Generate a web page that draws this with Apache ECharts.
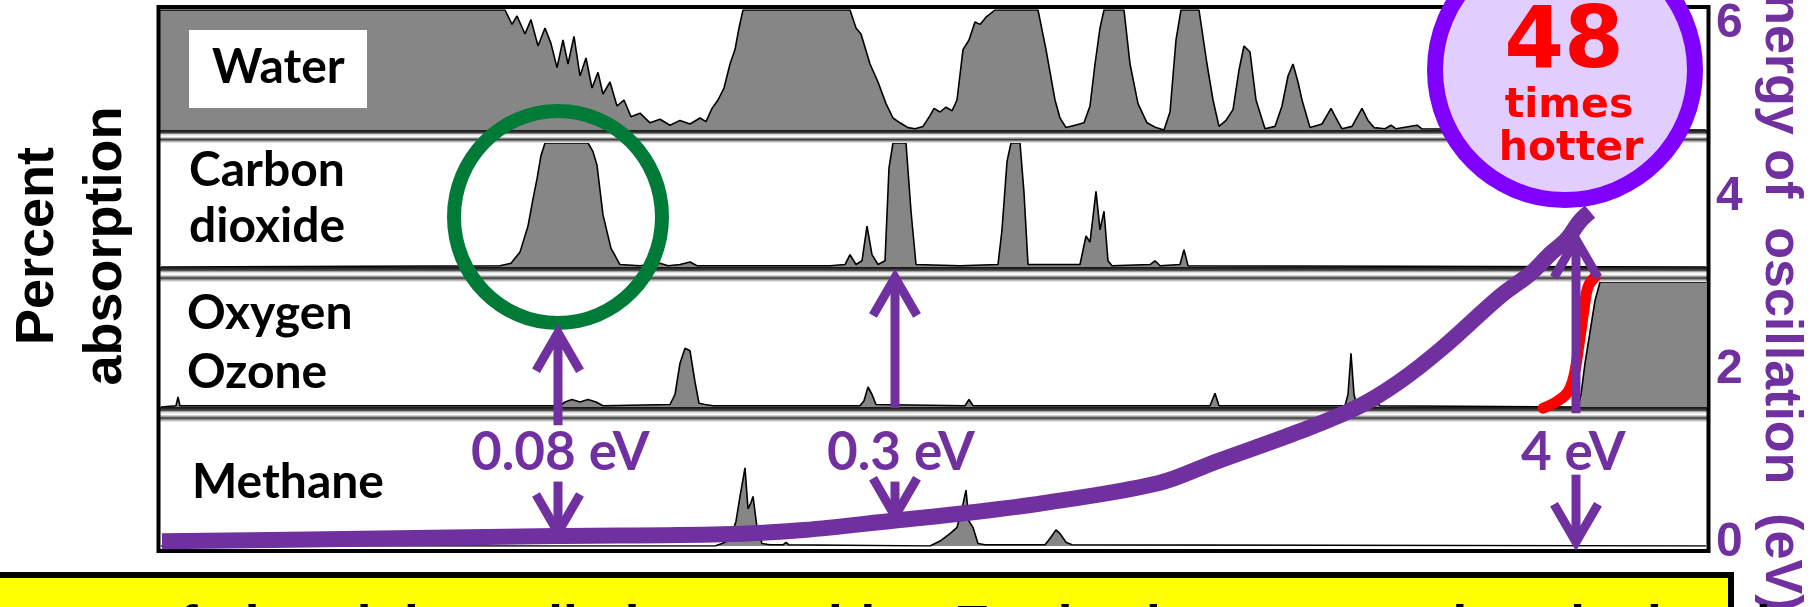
<!DOCTYPE html>
<html><head><meta charset="utf-8">
<script src="https://cdn.jsdelivr.net/npm/echarts@6/dist/echarts.min.js"></script>
<style>html,body{margin:0;padding:0;background:#fff;overflow:hidden}#c{width:1810px;height:607px}</style>
</head><body><div id="c"></div>
<script>
// ---- data (x = position across the spectrum panel, y = % absorption) ----
const bandLabels = ['Water', 'Carbon\ndioxide', 'Oxygen\nOzone', 'Methane'];
const waterSpectrum = [[2,100],[347,100],[354,88],[359,95],[367,80],[373,92],[380,70],[387,85],[393,72],[399,52],[405,75],[410,55],[416,78],[422,45],[428,60],[434,35],[440,48],[445,30],[452,40],[459,20],[466,25],[473,11],[482,14],[492,6],[502,9],[512,4],[522,8],[532,5],[542,10],[548,7],[554,18],[560,25],[566,35],[572,55],[577,67],[581,85],[585,100],[692,100],[698,85],[703,80],[712,55],[720,40],[728,22],[735,10],[742,6],[750,2],[757,1],[765,3],[772,12],[776,18],[782,15],[788,19],[794,16],[799,25],[805,67],[811,75],[817,90],[822,88],[828,94],[837,100],[880,100],[888,67],[897,25],[902,10],[908,2],[917,4],[926,6],[932,20],[937,55],[942,85],[946,100],[966,100],[972,55],[980,22],[989,6],[998,2],[1006,0],[1012,15],[1018,75],[1023,100],[1041,100],[1049,55],[1055,25],[1061,3],[1068,8],[1075,17],[1081,50],[1086,70],[1092,65],[1098,25],[1107,1],[1117,3],[1124,20],[1130,45],[1135,55],[1140,40],[1144,25],[1152,2],[1164,5],[1173,18],[1178,10],[1184,1],[1194,3],[1204,18],[1210,8],[1216,2],[1227,1],[1233,4],[1238,1],[1259,4],[1264,1],[1548,0]];
const co2Spectrum = [[3,0],[342,1],[353,3],[362,12],[370,33],[375,55],[379,71],[383,90],[387,100],[430,100],[435,93],[439,82],[445,42],[453,15],[462,2],[482,1],[502,3],[510,1],[522,2],[532,4],[539,1],[672,1],[687,2],[692,10],[698,2],[704,5],[709,33],[714,10],[720,2],[727,5],[731,80],[735,100],[748,100],[753,45],[758,2],[802,1],[840,2],[844,30],[849,85],[853,100],[862,100],[866,60],[870,2],[922,2],[928,25],[932,20],[938,61],[942,30],[946,45],[950,5],[954,1],[992,2],[997,5],[1002,1],[1022,2],[1026,14],[1030,1],[1548,0]];
const oxygenSpectrum = [[3,0],[18,1],[20,8],[22,1],[402,1],[407,4],[414,6],[422,4],[430,6],[438,4],[445,1],[512,2],[517,10],[522,35],[527,47],[532,45],[537,20],[541,3],[547,2],[555,1],[702,1],[706,5],[710,16],[714,10],[718,2],[807,1],[811,6],[815,1],[1052,1],[1057,11],[1061,1],[1187,1],[1190,10],[1193,43],[1196,10],[1199,1],[1216,1],[1219,4],[1222,1],[1420,0],[1423,10],[1427,35],[1432,60],[1437,85],[1442,100],[1548,100]];
const methaneSpectrum = [[3,0],[557,0],[564,2],[572,5],[578,20],[582,40],[587,63],[590,30],[593,35],[595,40],[599,15],[604,2],[612,1],[625,1],[628,3],[631,1],[772,0],[782,4],[792,10],[799,15],[804,30],[808,45],[811,20],[815,15],[820,2],[827,1],[887,1],[892,6],[898,13],[902,10],[908,3],[914,1],[1548,0]];
const ozoneEdgeMark = [[1385,-1],[1400,5],[1410,12],[1416,25],[1421,50],[1426,78],[1430,96],[1437,104]];
// energy of oscillation (eV) along the panel
const energyCurve = [[4,0.02],[150,0.04],[399,0.08],[565,0.10],[646,0.15],[737,0.26],[811,0.35],[885,0.46],[1000,0.69],[1058,0.94],[1144,1.30],[1201,1.58],[1242,1.87],[1285,2.26],[1342,2.85],[1373,3.12],[1392,3.34],[1408,3.50],[1422,3.72],[1432,3.83]];
const markerPos = [400, 737, 1418];
const markerLabels = ['0.08 eV', '0.3 eV', '4 eV'];
const upArrows = [[1.36, 2.43], [1.56, 3.07], [1.50, 3.51]];
const downArrows = [[0.71, 0.12], [0.71, 0.31], [0.79, 0.01]];
const labelEnergy = 1.04;
const energyTicks = [0, 2, 4, 6];

// ---- layout / style ----
const PANEL_L = 158, PANEL_W = 1550, POS_MAX = 1550;
const bands = [{top:10,h:120},{top:143,h:124},{top:282,h:125},{top:422,h:124}];
const PURPLE = '#7030A0';
const labelOffsetPx = [-87, -68, -55];

const chart = echarts.init(document.getElementById('c'), null, {renderer:'canvas'});

const grids = bands.map(b => ({left:PANEL_L, width:PANEL_W, top:b.top, height:b.h}));
grids.push({left:PANEL_L, width:PANEL_W, top:11, height:532});

const xAxes = grids.map((g,i) => ({type:'value', gridIndex:i, min:0, max:POS_MAX, show:false}));
const yAxes = bands.map((b,i) => ({type:'value', gridIndex:i, min:0, max:100, show:false}));
yAxes.push({type:'value', gridIndex:4, min:energyTicks[0], max:energyTicks[energyTicks.length-1], interval:2,
  position:'right', axisLine:{show:false}, axisTick:{show:false}, splitLine:{show:false},
  axisLabel:{color:PURPLE, fontSize:48, fontWeight:'bold', fontFamily:'Liberation Sans', margin:8}});

const spectra = [waterSpectrum, co2Spectrum, oxygenSpectrum, methaneSpectrum];
const series = spectra.map((d,i) => ({
  type:'line', xAxisIndex:i, yAxisIndex:i, data:d, symbol:'none', z:2,
  lineStyle:{color:'#000', width:1.6}, areaStyle:{color:'#868686', opacity:1}, silent:true
}));
series.push({type:'line', xAxisIndex:2, yAxisIndex:2, data:ozoneEdgeMark, symbol:'none', smooth:0.4, clip:false, z:9,
  lineStyle:{color:'#FF0000', width:11, cap:'round'}});
series.push({type:'line', xAxisIndex:4, yAxisIndex:4, data:energyCurve, symbol:'none', smooth:0.35, clip:false, z:10,
  lineStyle:{color:PURPLE, width:16, cap:'butt', join:'round'}});

const arrowData = [];
markerPos.forEach((p,i) => { arrowData.push([p, upArrows[i][0], upArrows[i][1]]); arrowData.push([p, downArrows[i][0], downArrows[i][1]]); });
series.push({type:'custom', xAxisIndex:4, yAxisIndex:4, z:11, data:arrowData, clip:false,
  encode:{x:0, y:[1,2]},
  renderItem(params, api){
    const x = api.value(0), a = api.value(1), b = api.value(2);
    const p0 = api.coord([x,a]), p1 = api.coord([x,b]);
    const dir = p1[1] < p0[1] ? 1 : -1;
    const hl = 38, hw = 22;
    return {type:'group', children:[
      {type:'line', shape:{x1:p0[0], y1:p0[1], x2:p1[0], y2:p1[1]}, style:{stroke:PURPLE, lineWidth:9}},
      {type:'polyline', shape:{points:[[p1[0]-hw, p1[1]+dir*hl],[p1[0], p1[1]],[p1[0]+hw, p1[1]+dir*hl]]},
        style:{stroke:PURPLE, lineWidth:9, fill:null, lineJoin:'miter'}}
    ]};
  }});
series.push({type:'custom', xAxisIndex:4, yAxisIndex:4, z:12, clip:false,
  data:markerPos.map(p => [p, labelEnergy]),
  renderItem(params, api){
    const i = params.dataIndex;
    const p = api.coord([api.value(0), api.value(1)]);
    return {type:'text', x:p[0]+labelOffsetPx[i], y:p[1],
      style:{text:markerLabels[i], fill:PURPLE, font:'bold 53px Lato', align:'left', verticalAlign:'middle'}};
  }});

// decorations
const g = [];
const sepTops = [130, 267, 407];
sepTops.forEach((y,i) => {
  const h = [bands[1].top, bands[2].top, bands[3].top][i] - y;
  g.push({type:'rect', z:3, shape:{x:PANEL_L+1, y:y, width:PANEL_W-1, height:h},
    style:{fill:{type:'linear', x:0, y:0, x2:0, y2:1, colorStops:[
      {offset:0,color:'#111'},{offset:0.22,color:'#444'},{offset:0.35,color:'#ddd'},{offset:0.5,color:'#fff'},
      {offset:0.62,color:'#aaa'},{offset:0.74,color:'#333'},{offset:0.86,color:'#aaa'},{offset:1,color:'#f4f4f4'}]}}});
});
g.push({type:'rect', z:4, shape:{x:PANEL_L+0.5, y:7, width:PANEL_W, height:544}, style:{fill:null, stroke:'#000', lineWidth:4}});
g.push({type:'rect', z:5, shape:{x:189, y:30, width:178, height:78}, style:{fill:'#fff'}});
const lblFont = 'bold 48px Lato';
const lbls = [['Water',212,68],['Carbon',189,171],['dioxide',189,227],['Oxygen',187,314],['Ozone',187,373],['Methane',192,483]];
lbls.forEach(l => g.push({type:'text', z:6, x:l[1], y:l[2], style:{text:l[0], fill:'#000', font:lblFont, align:'left', verticalAlign:'middle'}}));
g.push({type:'text', z:6, x:38, y:246, rotation:Math.PI/2, style:{text:'Percent', fill:'#000', font:'bold 54px "Liberation Sans"', align:'center', verticalAlign:'middle'}});
g.push({type:'text', z:6, x:106, y:246, rotation:Math.PI/2, style:{text:'absorption', fill:'#000', font:'bold 54px "Liberation Sans"', align:'center', verticalAlign:'middle'}});
g.push({type:'ellipse', z:7, shape:{cx:558, cy:217, rx:104, ry:106}, style:{fill:null, stroke:'#007A37', lineWidth:14}});
g.push({type:'ellipse', z:30, shape:{cx:1565, cy:70, rx:130, ry:130}, style:{fill:'#E2CDFF', stroke:'#7F00FF', lineWidth:16}});
g.push({type:'text', z:31, x:1564, y:45, style:{text:'48', fill:'#FF0000', font:'bold 86px "DejaVu Sans"', align:'center', verticalAlign:'middle'}});
g.push({type:'text', z:31, x:1569, y:106, style:{text:'times', fill:'#FF0000', font:'bold 41px "DejaVu Sans"', align:'center', verticalAlign:'middle'}});
g.push({type:'text', z:31, x:1571, y:149, style:{text:'hotter', fill:'#FF0000', font:'bold 41px "DejaVu Sans"', align:'center', verticalAlign:'middle'}});
g.push({type:'text', z:6, x:1780, y:285, rotation:-Math.PI/2, style:{text:'Energy of  oscillation  (eV)', fill:PURPLE, font:'bold 52px "Liberation Sans"', align:'center', verticalAlign:'middle'}});
g.push({type:'rect', z:5, shape:{x:-10, y:575, width:1741, height:60}, style:{fill:'#FFFF00', stroke:'#000', lineWidth:6}});
g.push({type:'text', z:6, x:24, y:628, style:{text:'sum of ultraviolet radiation reaching Earth where we are is calculated', fill:'#000', font:'bold 53px "Liberation Sans"', align:'left', verticalAlign:'middle'}});

chart.setOption({animation:false, backgroundColor:'#fff', grid:grids, xAxis:xAxes, yAxis:yAxes, series:series, graphic:g});
</script></body></html>
